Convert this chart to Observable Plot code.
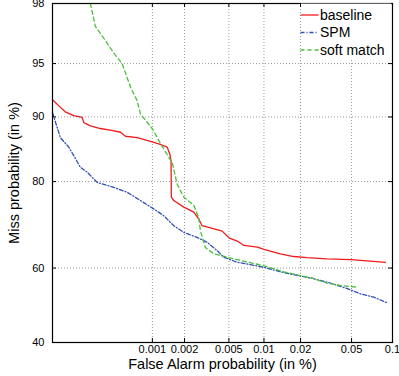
<!DOCTYPE html>
<html>
<head>
<meta charset="utf-8">
<script src="https://cdn.jsdelivr.net/npm/d3@7"></script>
<script src="https://cdn.jsdelivr.net/npm/@observablehq/plot@0.6"></script>
<style>
  html, body { margin: 0; padding: 0; background: white; }
  #chart { width: 399px; height: 376px; }
</style>
</head>
<body>
<div id="chart"></div>
<script>
// ---- Data (False alarm in %, Miss in %) ----
const xTickValues = [0.001, 0.002, 0.005, 0.01, 0.02, 0.05, 0.1];
const xTickLabels = ["0.001", "0.002", "0.005", "0.01", "0.02", "0.05", "0.1"];
const yTickValues = [40, 60, 80, 90, 95, 98];
const yTickLabels = ["40", "60", "80", "90", "95", "98"];
const xDomain = [0.0001, 0.1];
const yDomain = [40, 98];

const seriesNames = ["baseline", "SPM", "soft match"];

const baselineFA = [0.0001, 0.000121, 0.000136, 0.000166, 0.000203, 0.000211, 0.000246, 0.00031, 0.000391, 0.000492, 0.00055, 0.000715, 0.00096, 0.00115, 0.00138, 0.00146, 0.0015, 0.00151, 0.00159, 0.00197, 0.00243, 0.00269, 0.00289, 0.00343, 0.00437, 0.005, 0.00592, 0.00675, 0.0088, 0.01, 0.0137, 0.0176, 0.0226, 0.0324, 0.0493, 0.069, 0.089];
const baselineMiss = [91.9, 91.1, 90.6, 90.15, 89.95, 89.3, 88.9, 88.55, 88.35, 88.05, 87.5, 87.3, 86.75, 86.4, 85.9, 84.85, 83.7, 76.9, 76.2, 74.8, 73.7, 72.2, 70.6, 70.1, 69.3, 67.7, 66.9, 65.8, 65.4, 64.8, 63.7, 63.0, 62.7, 62.4, 62.2, 61.8, 61.5];

const spmFA = [0.0001, 0.000121, 0.000148, 0.000195, 0.000228, 0.000288, 0.00042, 0.000572, 0.00077, 0.00103, 0.00128, 0.00159, 0.00197, 0.0026, 0.0032, 0.00394, 0.00452, 0.00592, 0.00769, 0.01, 0.0137, 0.0188, 0.0255, 0.0344, 0.0465, 0.0583, 0.073, 0.0914];
const spmMiss = [90.5, 87.3, 85.9, 82.6, 81.75, 79.85, 78.9, 77.9, 76.2, 74.4, 72.9, 70.6, 69.0, 67.8, 66.6, 64.5, 62.8, 61.5, 60.9, 60.2, 59.0, 58.05, 57.2, 56.0, 54.5, 53.1, 52.2, 50.7];

const softFA = [0.000246, 0.000276, 0.000335, 0.000422, 0.000512, 0.000617, 0.000715, 0.00077, 0.001, 0.0012, 0.00143, 0.00154, 0.00171, 0.00197, 0.00243, 0.00269, 0.00279, 0.00309, 0.00367, 0.00484, 0.0063, 0.01, 0.0146, 0.02, 0.0255, 0.0324, 0.0412, 0.0552];
const softMiss = [98.0, 97.12, 96.55, 95.7, 94.97, 93.1, 91.8, 90.35, 88.5, 86.4, 84.3, 83.4, 79.5, 76.9, 75.2, 72.5, 69.4, 65.3, 63.7, 62.8, 62.0, 60.6, 59.0, 58.0, 57.2, 56.0, 55.35, 54.9];

const colors = ["#ee1c1c", "#2f4fb5", "#4cbf3a"];
const dashes = [null, "4,2,1,2", "4,3"];

// ---- Normal deviate (probit) scale helper ----
function probit(p) {
  const a=[-3.969683028665376e+01,2.209460984245205e+02,-2.759285104469687e+02,1.383577518672690e+02,-3.066479806614716e+01,2.506628277459239e+00];
  const b=[-5.447609879822406e+01,1.615858368580409e+02,-1.556989798598866e+02,6.680131188771972e+01,-1.328068155288572e+01];
  const c=[-7.784894002430293e-03,-3.223964580411365e-01,-2.400758277161838e+00,-2.549732539343734e+00,4.374664141464968e+00,2.938163982698783e+00];
  const d=[7.784695709041462e-03,3.224671290700398e-01,2.445134137142996e+00,3.754408661907416e+00];
  const pl = 0.02425, ph = 1 - pl;
  let q, r;
  if (p < pl) {
    q = Math.sqrt(-2 * Math.log(p));
    return (((((c[0]*q+c[1])*q+c[2])*q+c[3])*q+c[4])*q+c[5]) / ((((d[0]*q+d[1])*q+d[2])*q+d[3])*q+1);
  }
  if (p <= ph) {
    q = p - 0.5; r = q * q;
    return (((((a[0]*r+a[1])*r+a[2])*r+a[3])*r+a[4])*r+a[5])*q / (((((b[0]*r+b[1])*r+b[2])*r+b[3])*r+b[4])*r+1);
  }
  q = Math.sqrt(-2 * Math.log(1 - p));
  return -(((((c[0]*q+c[1])*q+c[2])*q+c[3])*q+c[4])*q+c[5]) / ((((d[0]*q+d[1])*q+d[2])*q+d[3])*q+1);
}
const pz = (pct) => probit(pct / 100);

function build(name, fa, miss) {
  return fa.map((v, i) => ({series: name, x: pz(v), y: pz(miss[i])}));
}
const data = [
  build(seriesNames[0], baselineFA, baselineMiss),
  build(seriesNames[1], spmFA, spmMiss),
  build(seriesNames[2], softFA, softMiss)
];

const xT = xTickValues.map(pz);
const yT = yTickValues.map(pz);
const fmt = (ticks, labels) => (d) => {
  let best = 0;
  for (let i = 1; i < ticks.length; i++) if (Math.abs(ticks[i] - d) < Math.abs(ticks[best] - d)) best = i;
  return labels[best];
};

const W = 399, H = 376, mL = 52, mR = 7, mT = 3, mB = 34;
const frameH = H - mT - mB, frameW = W - mL - mR;
const font = "'Liberation Sans', Arial, Helvetica, sans-serif";

const chart = Plot.plot({
  width: W, height: H,
  marginLeft: mL, marginRight: mR, marginTop: mT, marginBottom: mB,
  style: {fontFamily: font, fontSize: "11px", background: "white", color: "black", overflow: "visible"},
  x: {domain: xDomain.map(pz), axis: null},
  y: {domain: yDomain.map(pz), axis: null},
  marks: [
    Plot.ruleX(xT, {stroke: "#9a9a9a", strokeWidth: 1, strokeDasharray: "1,2"}),
    Plot.ruleY(yT, {stroke: "#9a9a9a", strokeWidth: 1, strokeDasharray: "1,2"}),
    ...data.map((d, i) => Plot.line(d, {x: "x", y: "y", stroke: colors[i], strokeWidth: 1.3, strokeDasharray: dashes[i]})),
    Plot.frame({stroke: "black", strokeWidth: 1.2}),
    Plot.tickX(xT, {insetTop: frameH - 4, stroke: "black"}),
    Plot.tickX(xT, {insetBottom: frameH - 4, stroke: "black"}),
    Plot.tickY(yT, {insetRight: frameW - 4, stroke: "black"}),
    Plot.tickY(yT, {insetLeft: frameW - 4, stroke: "black"}),
    Plot.axisX({ticks: xT, tickSize: 0, tickPadding: 3, tickFormat: fmt(xT, xTickLabels), label: null, fontSize: 11}),
    Plot.axisY({ticks: yT, tickSize: 0, tickPadding: 8, tickFormat: fmt(yT, yTickLabels), label: null, fontSize: 11}),
    Plot.text(["False Alarm probability (in %)"], {frameAnchor: "bottom", lineAnchor: "middle", textAnchor: "middle", dy: 22, fontSize: 14.5}),
    Plot.text(["Miss probability (in %)"], {frameAnchor: "left", lineAnchor: "middle", textAnchor: "middle", dx: -38, rotate: -90, fontSize: 14.5})
  ]
});

// ---- Legend (top-right, white background) ----
const svg = d3.select(chart);
const lg = svg.append("g").attr("font-family", font).attr("font-size", 14).attr("text-anchor", "start");
lg.append("rect").attr("x", 301).attr("y", 3.6).attr("width", 90).attr("height", 56).attr("fill", "white");
const rowsY = [15, 32.5, 50];
seriesNames.forEach((name, i) => {
  lg.append("line").attr("x1", 300.5).attr("x2", 318.5).attr("y1", rowsY[i]).attr("y2", rowsY[i])
    .attr("stroke", colors[i]).attr("stroke-width", 1.3).attr("stroke-dasharray", dashes[i]);
  lg.append("text").attr("x", 320).attr("y", rowsY[i]).attr("dy", "0.35em")
    .attr("text-anchor", "start").attr("fill", "black").text(name);
});

document.getElementById("chart").appendChild(chart);
</script>
</body>
</html>
